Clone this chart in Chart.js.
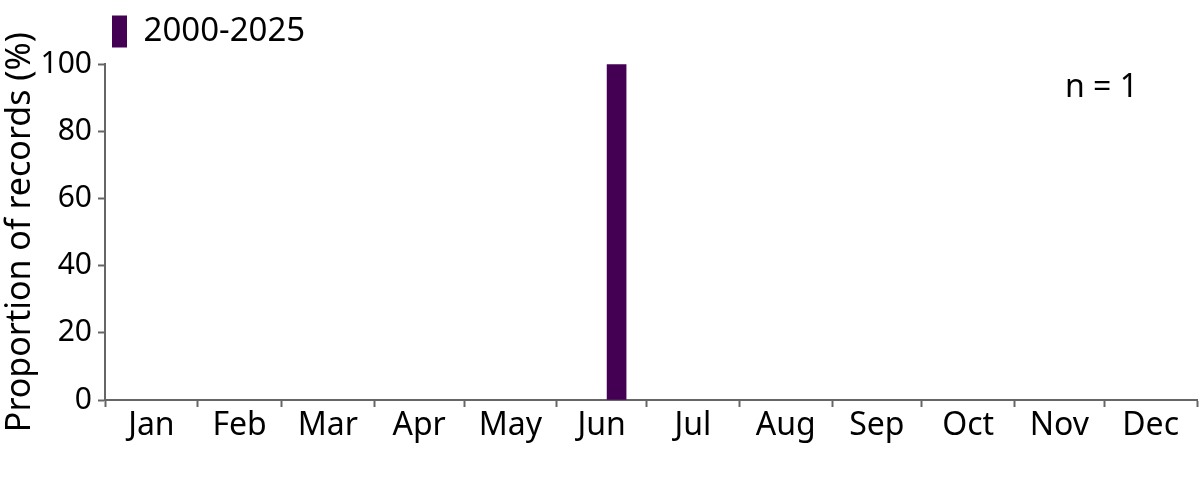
<!DOCTYPE html>
<html>
<head>
<meta charset="utf-8">
<script src="https://cdn.jsdelivr.net/npm/chart.js@4.4.1/dist/chart.umd.min.js"></script>
<style>
  html, body { margin: 0; padding: 0; background: #fff; }
  #wrap { width: 1200px; height: 480px; }
</style>
</head>
<body>
<div id="wrap"><canvas id="recordsChart"></canvas></div>
<script>
// month names and their lengths (the x axis is a day-of-year axis)
const months = ['Jan', 'Feb', 'Mar', 'Apr', 'May', 'Jun', 'Jul', 'Aug', 'Sep', 'Oct', 'Nov', 'Dec'];
const monthDays = [31, 28, 31, 30, 31, 30, 31, 31, 30, 31, 30, 31];

// records: day of year of the bin centre and proportion (%)
const recordDays = [171];
const proportions = [100];

const yTicks = [0, 20, 40, 60, 80, 100];
const seriesLabel = '2000-2025';
const sampleLabel = 'n = 1';

const barColor = '#440154';
const axisColor = '#666666';
const fontFamily = '"Noto Sans", "Open Sans", sans-serif';

// month boundaries and month centres
const boundaries = [0];
monthDays.forEach(d => boundaries.push(boundaries[boundaries.length - 1] + d));
const centres = months.map((m, i) => (boundaries[i] + boundaries[i + 1]) / 2);

const sampleSize = {
    id: 'sampleSize',
    afterDraw(chart) {
        const ctx = chart.ctx;
        const area = chart.chartArea;
        ctx.save();
        ctx.font = '32px ' + fontFamily;
        ctx.fillStyle = '#000';
        ctx.textAlign = 'right';
        ctx.textBaseline = 'alphabetic';
        ctx.fillText(sampleLabel, area.right - 59, area.top + 33);
        ctx.restore();
    }
};

const ctx = document.getElementById('recordsChart').getContext('2d');
const recordsChart = new Chart(ctx, {
    type: 'bar',
    data: {
        datasets: [{
            label: seriesLabel,
            data: recordDays.map((d, i) => ({ x: d, y: proportions[i] })),
            backgroundColor: barColor,
            borderWidth: 0,
            barThickness: 19
        }]
    },
    options: {
        responsive: true,
        maintainAspectRatio: false,
        animation: false,
        layout: { padding: { top: 8, right: 3, bottom: 30, left: 0 } },
        plugins: {
            tooltip: { enabled: false },
            legend: {
                position: 'top',
                align: 'start',
                fullSize: false,
                labels: {
                    boxWidth: 15,
                    boxHeight: 32,
                    padding: 7,
                    color: '#000',
                    font: { family: fontFamily, size: 33 }
                }
            },
            // empty spacer between legend and plot
            subtitle: {
                display: true,
                text: '',
                weight: 500,
                padding: { top: 0, bottom: 5 },
                font: { size: 1 }
            }
        },
        scales: {
            x: {
                type: 'linear',
                min: 0,
                max: 365,
                offset: false,
                afterBuildTicks: scale => {
                    scale.ticks = boundaries.concat(centres)
                        .sort((a, b) => a - b)
                        .map(v => ({ value: v }));
                },
                afterFit: scale => { scale.height = 50; },
                ticks: {
                    autoSkip: false,
                    maxRotation: 0,
                    padding: 0,
                    color: '#000',
                    font: { family: fontFamily, size: 32 },
                    callback: value => {
                        const i = centres.indexOf(value);
                        return i >= 0 ? months[i] : '';
                    }
                },
                grid: {
                    offset: false,
                    drawOnChartArea: false,
                    drawTicks: true,
                    tickLength: 7,
                    tickWidth: 2,
                    tickColor: c => (c.tick && boundaries.includes(c.tick.value)) ? axisColor : 'rgba(0,0,0,0)'
                },
                border: { color: axisColor, width: 2 }
            },
            y: {
                min: 0,
                max: 100,
                afterBuildTicks: scale => {
                    scale.ticks = yTicks.map(v => ({ value: v }));
                },
                afterFit: scale => { scale.width = 105; },
                ticks: {
                    padding: 6,
                    color: '#000',
                    font: { family: fontFamily, size: 30 }
                },
                grid: {
                    drawOnChartArea: false,
                    tickLength: 7,
                    tickWidth: 2,
                    tickColor: axisColor
                },
                border: { color: axisColor, width: 2 },
                title: {
                    display: true,
                    text: 'Proportion of records (%)',
                    color: '#000',
                    padding: 0,
                    font: { family: fontFamily, size: 34 }
                }
            }
        }
    },
    plugins: [sampleSize]
});
</script>
</body>
</html>
